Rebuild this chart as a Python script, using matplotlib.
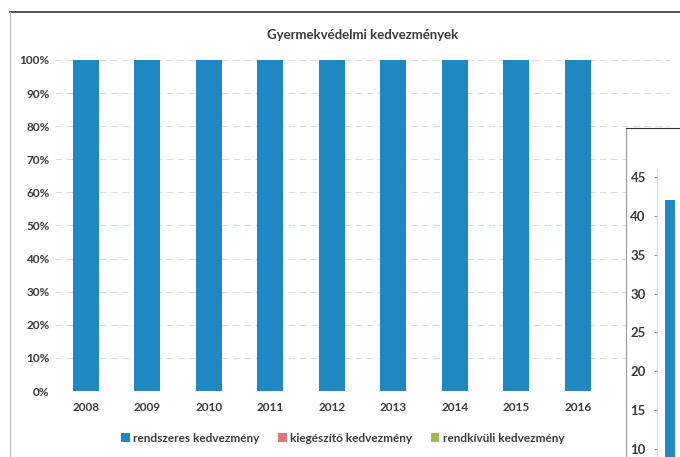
import matplotlib.pyplot as plt
import numpy as np

# Data (100% stacked shares)
years = ['2008', '2009', '2010', '2011', '2012', '2013', '2014', '2015', '2016']
rendszeres = [99.9, 99.9, 99.9, 99.9, 99.9, 99.9, 99.9, 99.9, 99.9]
kiegeszito = [0.06, 0.06, 0.06, 0.06, 0.06, 0.06, 0.06, 0.06, 0.06]
rendkivuli = [0.04, 0.04, 0.04, 0.04, 0.04, 0.04, 0.04, 0.04, 0.04]
pct_ticks = [0, 10, 20, 30, 40, 50, 60, 70, 80, 90, 100]

# Partially visible second chart on the right edge
side_ticks = [10, 15, 20, 25, 30, 35, 40, 45]
side_value = [42]

blue = '#1f87c1'
red = '#d9797a'
green = '#9bbb59'
txt = '#3a3a3a'

plt.rcParams['font.family'] = ['Lato', 'DejaVu Sans']

fig = plt.figure(figsize=(6.8, 4.57), dpi=100)

# chart area border (top and left)
fig.add_artist(plt.Line2D([10/680, 1], [1 - 12/457, 1 - 12/457], color='#333333', lw=1.2))
fig.add_artist(plt.Line2D([10/680, 10/680], [0, 1 - 12/457], color='#bbbbbb', lw=0.8))

ax = fig.add_axes([55/680, 1 - 391/457, 615/680, 331/457])
x = np.arange(len(years))
w = 0.42
ax.bar(x, rendszeres, w, color=blue, label='rendszeres kedvezmény', zorder=3)
ax.bar(x, kiegeszito, w, bottom=rendszeres, color=red, label='kiegészítő kedvezmény', zorder=3)
bot2 = np.array(rendszeres) + np.array(kiegeszito)
ax.bar(x, rendkivuli, w, bottom=bot2, color=green, label='rendkívüli kedvezmény', zorder=3)

ax.set_xlim(-0.5, 9.5)
ax.set_ylim(0, 100)
ax.set_xticks(x)
ax.set_xticklabels(years, fontsize=8.5, fontweight='bold', color=txt)
ax.set_yticks(pct_ticks)
ax.set_yticklabels([f'{t}%' for t in pct_ticks], fontsize=8.5, fontweight='bold', color=txt)
ax.tick_params(length=0, pad=8)
ax.tick_params(axis='y', pad=4)
for s in ax.spines.values():
    s.set_visible(False)
ax.grid(axis='y', color='#d5dde4', linestyle=(0, (6, 4)), linewidth=0.8, zorder=0)

ax.set_title('Gyermekvédelmi kedvezmények', fontsize=9.5, fontweight='bold', color=txt, pad=15)

fig.legend(*ax.get_legend_handles_labels(), loc='center', bbox_to_anchor=(343/680, 1 - 438/457),
           ncol=3, frameon=False, handlelength=0.7, handleheight=0.7,
           handletextpad=0.3, columnspacing=1.6, labelcolor=txt,
           prop={'size': 8.5, 'weight': 'bold'})

# second chart overlapping on the right
bg = fig.add_axes([626/680, -0.1, 0.2, 1 - 128/457 + 0.1])
bg.set_facecolor('white')
bg.set_xticks([])
bg.set_yticks([])
for k in ['right', 'bottom']:
    bg.spines[k].set_visible(False)
bg.spines['top'].set_color('#333333')
bg.spines['left'].set_color('#999999')
bg.set_zorder(5)

ax2 = fig.add_axes([657/680, (457 - 527)/457, 0.1, (527 - 169)/457])
ax2.set_zorder(6)
ax2.patch.set_alpha(0)
ax2.bar([0.19], side_value, 0.147, color=blue, zorder=3)
ax2.set_xlim(0, 1)
ax2.set_ylim(0, 46)
ax2.set_yticks(side_ticks)
ax2.set_yticklabels([str(t) for t in side_ticks], fontsize=9.5, fontweight='bold', color=txt)
ax2.set_xticks([])
ax2.tick_params(axis='y', length=2, color='#888888', pad=6)
for k in ['top', 'right', 'bottom']:
    ax2.spines[k].set_visible(False)
ax2.spines['left'].set_color('#dddddd')

fig.savefig('out.png', dpi=100)
